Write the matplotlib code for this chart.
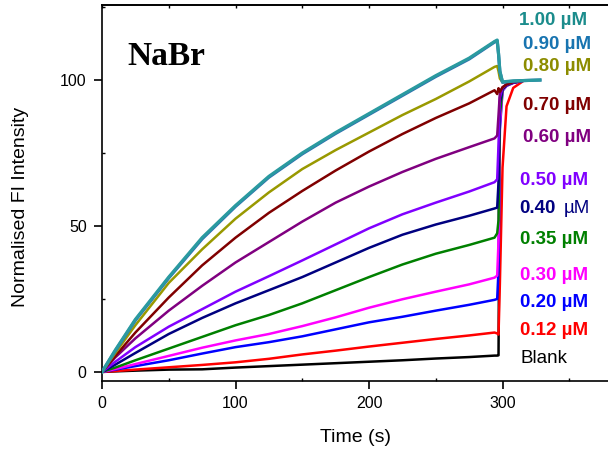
import numpy as np
import matplotlib
matplotlib.use('Agg')
import matplotlib.pyplot as plt
from matplotlib.ticker import MultipleLocator

plt.rcParams['font.family'] = ['Liberation Sans', 'DejaVu Sans']

# Kinetic traces: rising part (shared time grid) and the jump / plateau tail
T_MAIN = [0, 10, 25, 50, 75, 100, 125, 150, 175, 200, 225, 250, 275, 294]
T_TAIL = [296, 297, 298, 300, 303, 308, 315, 328]
nan = np.nan

LABELS = ['Blank', '0.12', '0.20', '0.30', '0.35', '0.40', '0.50', '0.60',
          '0.70', '0.80', '0.90', '1.00']

blank_main = [0, 0.2, 0.45, 0.8, 0.9, 1.5, 2.0, 2.5, 3.0, 3.5, 4.0, 4.6, 5.1, 5.6]
blank_tail = [5.6, 5.7, 92, 97, 98.4, 99.2, 99.8, nan]
c012_main = [0, 0.3, 0.8, 1.6, 2.4, 3.3, 4.5, 6.0, 7.3, 8.7, 10, 11.3, 12.5, 13.5]
c012_tail = [13.2, 12.8, 30, 70, 91, 97.3, 99.5, nan]
c020_main = [0, 0.8, 2, 4, 6.3, 8.5, 10.2, 12.2, 14.6, 17, 18.9, 21, 23, 24.7]
c020_tail = [25, 35, 83, 96.3, 98, 99, 99.7, nan]
c030_main = [0, 1, 2.7, 5.5, 8.3, 10.8, 13, 15.7, 18.7, 22, 24.9, 27.5, 30, 32.3]
c030_tail = [33, 45, 85, 96.5, 98.1, 99, 99.7, nan]
c035_main = [0, 1.5, 4, 8, 12, 16, 19.5, 23.5, 28, 32.5, 36.8, 40.5, 43.5, 46]
c035_tail = [47.5, 52, 88, 96.8, 98.2, 99.1, 99.7, nan]
c040_main = [0, 2.5, 6.5, 13, 18.5, 23.5, 28, 32.5, 37.5, 42.5, 47, 50.5, 53.5, 56]
c040_tail = [56.3, 65, 92, 97, 98.3, 99.1, 99.7, nan]
c050_main = [0, 3.5, 8.5, 15.5, 21.5, 27.5, 32.8, 38.2, 43.7, 49.2, 54, 58, 61.8, 65]
c050_tail = [66, 78, 94, 97.3, 98.4, 99.2, 99.8, nan]
c060_main = [0, 5, 11.5, 21, 29.5, 37.5, 44.5, 51.5, 58, 63.5, 68.5, 73, 77, 80]
c060_tail = [81, 88, 95.5, 97.5, 98.5, 99.3, 99.8, nan]
c070_main = [0, 5.5, 13.5, 25.5, 36.5, 46, 54.5, 62, 69, 75.5, 81.5, 87, 92, 96.5]
c070_tail = [95.2, 97.2, 96, 97.5, 98.5, 99.3, 99.8, nan]
c080_main = [0, 6.5, 16, 30.5, 42, 52.5, 61.5, 69.5, 76, 82, 88, 93.5, 99.5, 104.5]
c080_tail = [104.8, 103, 100.5, 99.3, 99.4, 99.6, 99.8, nan]
c090_main = [0, 7.3, 17.7, 32.2, 45.6, 56.7, 66.7, 74.7, 81.7, 88.2, 94.7, 101.2, 107.2, 113]
c090_tail = [113.4, 109, 103, 99.2, 99.4, 99.6, 99.8, 100]
c100_main = [0, 7.5, 18, 32.5, 46, 57, 67, 75, 82, 88.5, 95, 101.5, 107.5, 113.2]
c100_tail = [113.7, 109, 103, 99.3, 99.5, 99.7, 99.8, 100]

MAINS = [blank_main, c012_main, c020_main, c030_main, c035_main, c040_main,
         c050_main, c060_main, c070_main, c080_main, c090_main, c100_main]
TAILS = [blank_tail, c012_tail, c020_tail, c030_tail, c035_tail, c040_tail,
         c050_tail, c060_tail, c070_tail, c080_tail, c090_tail, c100_tail]

LINE_COLORS = ['#000000', '#ff0000', '#0000ff', '#ff00ff', '#008000', '#000080',
               '#8000ff', '#800080', '#800000', '#999900', '#2f6fb0', '#2a9aa0']
TEXT_COLORS = ['#000000', '#ff0000', '#0000ff', '#ff00ff', '#008000', '#000080',
               '#8000ff', '#800080', '#800000', '#8c8c00', '#1874b0', '#1b8c8c']
# label anchor (time, intensity) for the right-hand annotations
LABEL_X = [313.5, 312.8, 312.8, 313.3, 312.8, 312.8, 313.3, 315.0, 315.0, 315.0, 315.0, 312.4]
LABEL_Y = [3.0, 12.7, 22.4, 31.5, 43.8, 54.3, 64.0, 78.9, 89.7, 103.2, 110.5, 118.8]

fig = plt.figure(figsize=(6.08, 4.53), dpi=100)
ax = fig.add_axes([102 / 608, 72 / 453, 506 / 608, 376 / 453])

for i in range(len(LABELS)):
    t = T_MAIN + T_TAIL
    y = MAINS[i] + TAILS[i]
    lw = 2.3 if LABELS[i] in ('0.90', '1.00') else 1.8
    ax.plot(t, y, color=LINE_COLORS[i], lw=lw, solid_joinstyle='round', zorder=2 + i)

for i, lab in enumerate(LABELS):
    if lab == 'Blank':
        ax.text(LABEL_X[i], LABEL_Y[i], 'Blank', color=TEXT_COLORS[i], fontsize=13.5,
                va='baseline', ha='left')
    elif lab == '0.40':
        ax.text(LABEL_X[i], LABEL_Y[i], '0.40', color=TEXT_COLORS[i], fontsize=13.5,
                fontweight='bold', va='baseline', ha='left')
        ax.text(LABEL_X[i] + 33.0, LABEL_Y[i], '\u00b5M', color=TEXT_COLORS[i], fontsize=13.5,
                va='baseline', ha='left')
    else:
        ax.text(LABEL_X[i], LABEL_Y[i], f'{lab} \u00b5M', color=TEXT_COLORS[i], fontsize=13.5,
                fontweight='bold', va='baseline', ha='left')

ax.text(0.051, 0.840, 'NaBr', transform=ax.transAxes, fontsize=24, fontweight='bold',
        family='Liberation Serif', va='baseline', ha='left')

ax.set_xlim(0, 379)
ax.set_ylim(-3.1, 125.7)
ax.xaxis.set_major_locator(MultipleLocator(100))
ax.xaxis.set_minor_locator(MultipleLocator(50))
ax.yaxis.set_major_locator(MultipleLocator(50))
ax.yaxis.set_minor_locator(MultipleLocator(25))
ax.tick_params(which='major', direction='out', length=6, width=1.2, labelsize=11.5, pad=5)
ax.tick_params(which='minor', direction='in', length=2.5, width=1.0)
ax.spines['right'].set_visible(False)
for s in ['left', 'bottom', 'top']:
    ax.spines[s].set_linewidth(1.2)

top = ax.secondary_xaxis('top')
top.xaxis.set_major_locator(MultipleLocator(50))
top.tick_params(direction='in', length=2.5, width=1.0, labeltop=False)
top.spines['top'].set_linewidth(1.2)

ax.set_xlabel('Time (s)', fontsize=14)
ax.xaxis.label.set_va('center')
ax.xaxis.set_label_coords(0.5, (381 - 437) / 376)
ax.set_ylabel('Normalised FI Intensity', fontsize=14)
ax.yaxis.label.set_va('center')
ax.yaxis.set_label_coords((21 - 102) / 506, (381 - 207) / 376)

fig.savefig('out.png', dpi=100, facecolor='white')
